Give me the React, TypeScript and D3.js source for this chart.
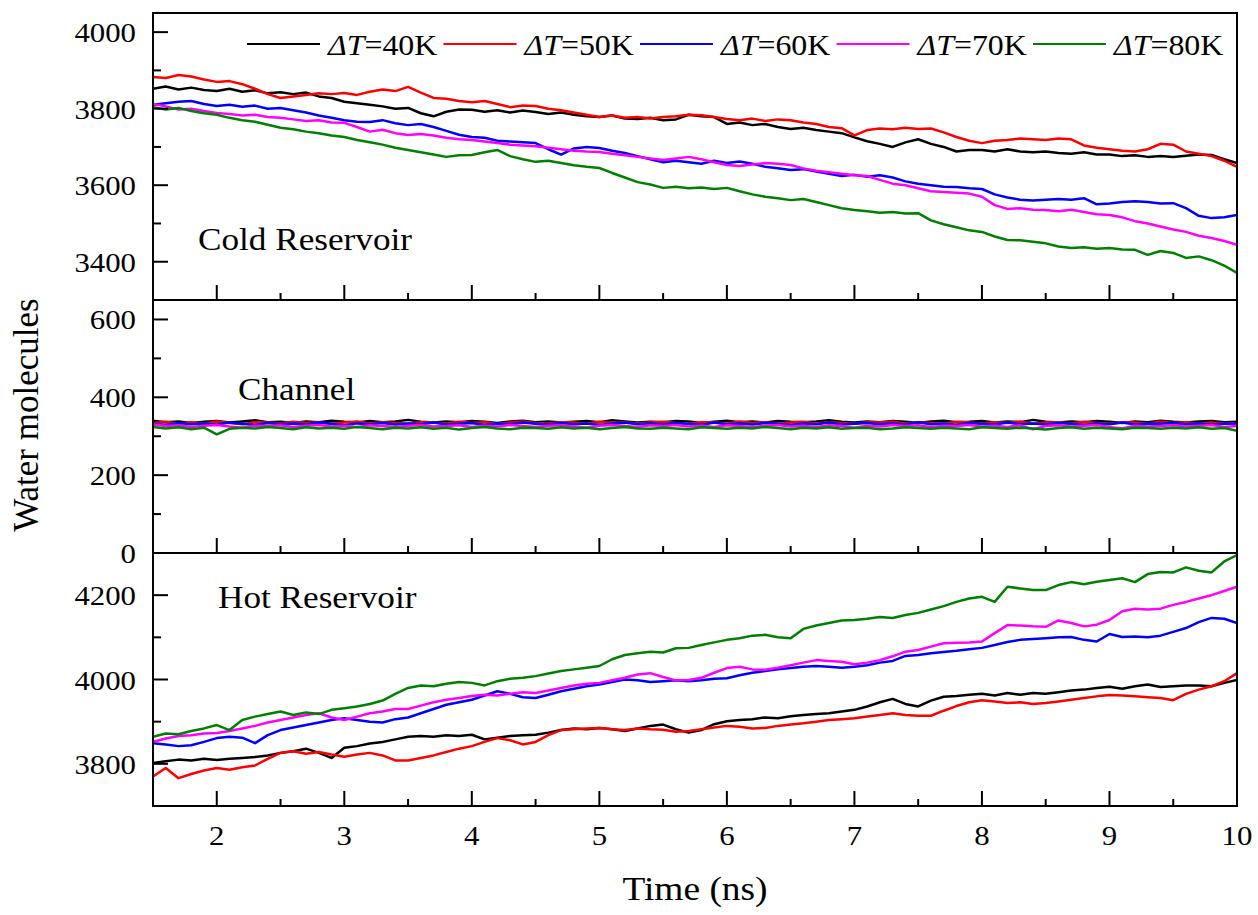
import React from "react";
import * as d3 from "d3";

// sampled every 0.1 ns from 1.5 to 10 ns
const TIME = d3.range(86).map((i) => Math.round((1.5 + i * 0.1) * 10) / 10);

const LEGEND_K = ["40K", "50K", "60K", "70K", "80K"];
const COLORS = ["#000000", "#ff0000", "#0000ff", "#ff00ff", "#008000"];

// cold reservoir
const COLD_40 = [
  3852, 3858, 3850, 3855, 3849, 3846, 3852, 3844, 3848, 3840,
  3843, 3838, 3842, 3832, 3828, 3818, 3814, 3810, 3806, 3800,
  3802, 3788, 3780, 3792, 3798, 3797, 3792, 3796, 3790, 3795,
  3791, 3786, 3790, 3784, 3780, 3778, 3782, 3774, 3773, 3776,
  3770, 3772, 3784, 3780, 3778, 3760, 3764, 3757, 3760, 3752,
  3747, 3750, 3744, 3740, 3736, 3725, 3715, 3708, 3700, 3712,
  3720, 3708, 3700, 3688, 3692, 3692, 3688, 3694, 3688, 3686,
  3688, 3684, 3682, 3686, 3680, 3680, 3676, 3678, 3674, 3676,
  3674, 3677, 3680, 3679, 3668, 3658,
];
const COLD_50 = [
  3883, 3880, 3888, 3884, 3876, 3870, 3872, 3864, 3852, 3838,
  3828, 3832, 3836, 3840, 3838, 3841, 3836, 3844, 3850, 3846,
  3857, 3842, 3828, 3826, 3820, 3817, 3820, 3812, 3804, 3808,
  3807, 3800, 3796, 3790, 3784, 3778, 3782, 3776, 3778, 3774,
  3778, 3780, 3784, 3783, 3778, 3773, 3770, 3774, 3768, 3772,
  3770, 3764, 3760, 3752, 3749, 3730, 3744, 3748, 3746, 3750,
  3747, 3748, 3738, 3726, 3716, 3710, 3716, 3718, 3722, 3720,
  3718, 3722, 3720, 3704, 3698, 3694, 3690, 3688, 3694, 3708,
  3706, 3688, 3682, 3676, 3664, 3648,
];
const COLD_60 = [
  3810, 3814, 3818, 3820, 3812, 3807, 3810, 3805, 3808, 3800,
  3802, 3796, 3790, 3782, 3776, 3770, 3766, 3765, 3770, 3762,
  3757, 3760, 3752, 3742, 3732, 3726, 3724, 3716, 3714, 3712,
  3710, 3694, 3680, 3696, 3700, 3697, 3690, 3684, 3676, 3668,
  3660, 3664, 3660, 3656, 3664, 3658, 3662, 3656, 3648, 3644,
  3640, 3642, 3636, 3630, 3624, 3627, 3622, 3626, 3620, 3610,
  3604, 3600, 3596, 3595, 3592, 3590, 3576, 3568, 3562, 3560,
  3562, 3564, 3562, 3566, 3550, 3552, 3556, 3558, 3556, 3552,
  3553, 3540, 3520, 3514, 3516, 3522,
];
const COLD_70 = [
  3812, 3806, 3798, 3800, 3794, 3789, 3786, 3782, 3784, 3778,
  3776, 3772, 3768, 3770, 3764, 3763, 3752, 3740, 3745, 3736,
  3731, 3734, 3730, 3724, 3720, 3718, 3714, 3710, 3706, 3704,
  3702, 3698, 3694, 3690, 3688, 3687, 3682, 3678, 3674, 3670,
  3666, 3670, 3674, 3668, 3660, 3653, 3650, 3654, 3658, 3656,
  3653, 3644, 3638, 3634, 3630, 3626, 3624, 3614, 3604, 3600,
  3592, 3584, 3582, 3580, 3578, 3570, 3548, 3538, 3540, 3536,
  3535, 3532, 3536, 3530, 3524, 3522, 3516, 3506, 3500, 3492,
  3484, 3478, 3468, 3462, 3454, 3444,
];
const COLD_80 = [
  3804, 3798, 3802, 3794, 3788, 3784, 3776, 3770, 3766, 3758,
  3750, 3746, 3740, 3736, 3730, 3726, 3718, 3712, 3706, 3698,
  3692, 3686, 3680, 3674, 3678, 3679, 3686, 3692, 3676, 3668,
  3661, 3664, 3658, 3652, 3648, 3645, 3632, 3620, 3608, 3602,
  3593, 3596, 3592, 3594, 3590, 3593, 3584, 3576, 3570, 3566,
  3561, 3564, 3556, 3548, 3540, 3535, 3532, 3528, 3530, 3526,
  3527, 3508, 3498, 3490, 3482, 3478, 3466, 3457, 3456, 3452,
  3448, 3440, 3436, 3438, 3434, 3436, 3432, 3431, 3418, 3428,
  3423, 3410, 3414, 3404, 3390, 3371,
];

// channel
const CH_40 = [
  340, 336, 338, 334, 337, 339, 335, 338, 341, 336,
  337, 334, 338, 336, 340, 337, 335, 339, 336, 338,
  342, 337, 335, 338, 336, 339, 337, 334, 338, 340,
  336, 338, 335, 337, 339, 336, 341, 338, 335, 337,
  336, 339, 338, 334, 337, 340, 336, 338, 335, 339,
  337, 336, 338, 341, 337, 335, 338, 336, 339, 337,
  334, 338, 340, 336, 337, 339, 335, 338, 336, 342,
  337, 335, 338, 336, 339, 337, 334, 338, 336, 340,
  337, 335, 338, 339, 336, 337,
];
const CH_50 = [
  334, 337, 332, 336, 333, 338, 334, 331, 336, 335,
  333, 337, 334, 336, 332, 335, 338, 333, 336, 334,
  332, 336, 335, 333, 337, 334, 336, 332, 335, 338,
  334, 333, 336, 335, 332, 337, 334, 336, 333, 335,
  337, 334, 332, 336, 335, 333, 338, 334, 336, 332,
  335, 337, 333, 336, 334, 332, 336, 335, 337, 333,
  336, 334, 332, 337, 335, 333, 336, 334, 338, 332,
  335, 336, 333, 337, 334, 332, 336, 335, 333, 337,
  334, 336, 332, 335, 333, 334,
];
const CH_60 = [
  332, 329, 334, 331, 333, 330, 335, 332, 329, 334,
  331, 333, 330, 335, 332, 328, 333, 331, 334, 330,
  333, 331, 335, 330, 332, 334, 329, 333, 331, 335,
  332, 330, 334, 331, 333, 329, 332, 335, 331, 333,
  330, 334, 332, 329, 335, 331, 333, 330, 334, 332,
  329, 333, 331, 335, 330, 332, 334, 331, 333, 330,
  336, 331, 333, 329, 334, 332, 330, 335, 331, 333,
  330, 334, 332, 329, 333, 331, 335, 330, 333, 332,
  334, 331, 333, 330, 332, 333,
];
const CH_70 = [
  330, 326, 328, 324, 327, 329, 325, 322, 327, 326,
  328, 324, 327, 329, 325, 327, 323, 328, 326, 324,
  327, 329, 325, 326, 328, 324, 327, 325, 329, 326,
  324, 327, 328, 325, 322, 327, 329, 326, 324, 328,
  326, 329, 325, 327, 324, 328, 326, 323, 327, 329,
  325, 327, 324, 328, 326, 322, 327, 325, 329, 326,
  328, 324, 327, 326, 329, 325, 327, 324, 328, 318,
  326, 328, 325, 327, 329, 324, 320, 327, 325, 326,
  328, 325, 327, 329, 324, 326,
];
const CH_80 = [
  324, 320, 323, 318, 322, 305, 319, 322, 320, 324,
  321, 318, 323, 320, 322, 319, 324, 321, 318, 322,
  320, 323, 319, 322, 317, 321, 324, 320, 318, 322,
  321, 319, 323, 320, 322, 318, 321, 324, 320, 319,
  322, 320, 318, 323, 321, 319, 322, 320, 324, 321,
  318, 322, 320, 323, 319, 321, 322, 318, 320, 323,
  321, 319, 322, 320, 318, 323, 321, 319, 322, 320,
  317, 321, 323, 319, 322, 320, 318, 322, 321, 319,
  322, 320, 323, 319, 321, 314,
];

// hot reservoir
const HOT_40 = [
  3802, 3806, 3810, 3808, 3812, 3809, 3812, 3814, 3816, 3820,
  3826, 3830, 3836, 3826, 3814, 3838, 3842, 3848, 3852, 3858,
  3864, 3866, 3864, 3868, 3866, 3869, 3858, 3862, 3866, 3868,
  3869, 3874, 3880, 3884, 3882, 3885, 3882, 3878, 3884, 3890,
  3893, 3882, 3874, 3880, 3894, 3901, 3904, 3906, 3910, 3908,
  3913, 3916, 3918, 3920, 3924, 3928, 3936, 3946, 3954, 3942,
  3936, 3950, 3959, 3961, 3964, 3966, 3962, 3968, 3964, 3968,
  3966, 3970, 3974, 3976, 3980, 3983, 3978, 3984, 3988, 3982,
  3984, 3986, 3986, 3984, 3992, 3999,
];
const HOT_50 = [
  3770, 3790, 3766, 3776, 3784, 3790, 3786, 3792, 3796, 3812,
  3826, 3830, 3824, 3828, 3822, 3817, 3822, 3826, 3820, 3808,
  3808, 3814, 3820, 3828, 3836, 3842, 3852, 3861, 3856, 3846,
  3852, 3868, 3880, 3882, 3884, 3885, 3882, 3880, 3884, 3882,
  3881, 3876, 3878, 3882, 3886, 3890, 3888, 3884, 3885, 3890,
  3893, 3896, 3900, 3904, 3906, 3908, 3912, 3916, 3920, 3916,
  3914, 3914, 3926, 3937, 3946, 3951, 3948, 3944, 3946, 3942,
  3944, 3948, 3952, 3956, 3960, 3963, 3962, 3960, 3958, 3956,
  3951, 3966, 3976, 3984, 3996, 4015,
];
const HOT_60 = [
  3849, 3846, 3842, 3844, 3852, 3861, 3864, 3862, 3849, 3868,
  3880, 3886, 3892, 3898, 3904, 3908, 3904, 3900, 3898, 3906,
  3910, 3920, 3930, 3940, 3946, 3952, 3962, 3972, 3966, 3958,
  3956, 3964, 3972, 3978, 3984, 3988, 3994, 4000, 3998, 3994,
  3996, 3998, 3996, 3998, 4002, 4003, 4010, 4016, 4020, 4024,
  4027, 4030, 4032, 4030, 4028, 4030, 4034, 4040, 4044, 4056,
  4058, 4062, 4065, 4068, 4072, 4075, 4082, 4089, 4094, 4096,
  4098, 4100, 4101, 4094, 4090, 4108, 4101, 4102, 4100, 4104,
  4113, 4122, 4136, 4146, 4144, 4134,
];
const HOT_70 = [
  3852, 3860, 3866, 3868, 3872, 3873, 3878, 3884, 3890, 3898,
  3904, 3910, 3916, 3920, 3910, 3904, 3912, 3920, 3924, 3930,
  3930, 3938, 3946, 3952, 3956, 3961, 3964, 3962, 3966, 3970,
  3968, 3974, 3980, 3986, 3990, 3992, 3998, 4004, 4012, 4015,
  4006, 3998, 3999, 4004, 4016, 4027, 4030, 4024, 4023, 4028,
  4034, 4040, 4046, 4044, 4042, 4036, 4040, 4046, 4055, 4066,
  4070, 4078, 4086, 4087, 4088, 4090, 4110, 4129, 4128, 4126,
  4125, 4140, 4134, 4126, 4130, 4141, 4162, 4168, 4166, 4168,
  4177, 4184, 4192, 4200, 4210, 4220,
];
const HOT_80 = [
  3864, 3872, 3870, 3878, 3884, 3892, 3880, 3904, 3912, 3918,
  3924, 3916, 3922, 3918, 3928, 3932, 3936, 3942, 3950, 3966,
  3980, 3986, 3984, 3990, 3994, 3992, 3986, 3996, 4002, 4004,
  4008, 4014, 4020, 4024, 4028, 4032, 4048, 4058, 4062, 4066,
  4064, 4074, 4075, 4082, 4088, 4094, 4098, 4104, 4106, 4100,
  4098, 4120, 4128, 4134, 4140, 4141, 4144, 4148, 4146, 4153,
  4158, 4166, 4174, 4184, 4192, 4196, 4184, 4220, 4216, 4212,
  4212, 4224, 4231, 4226, 4232, 4236, 4240, 4231, 4250, 4255,
  4254, 4266, 4258, 4254, 4280, 4295,
];

const X_TICKS = [2, 3, 4, 5, 6, 7, 8, 9, 10];
const X_MINOR = [2.5, 3.5, 4.5, 5.5, 6.5, 7.5, 8.5, 9.5];

const PANELS = [
  { label: "Cold Reservoir", top: 13, bottom: 300, domain: [3300, 4050], major: [3400, 3600, 3800, 4000], minor: [3500, 3700, 3900], series: [COLD_40, COLD_50, COLD_60, COLD_70, COLD_80], lx: 198, ly: 250 },
  { label: "Channel", top: 300, bottom: 553, domain: [0, 650], major: [0, 200, 400, 600], minor: [100, 300, 500], series: [CH_40, CH_50, CH_60, CH_70, CH_80], lx: 238, ly: 400 },
  { label: "Hot Reservoir", top: 553, bottom: 806, domain: [3700, 4300], major: [3800, 4000, 4200], minor: [3900, 4100], series: [HOT_40, HOT_50, HOT_60, HOT_70, HOT_80], lx: 218, ly: 608 },
];

const FONT = "'Liberation Serif', 'Times New Roman', serif";
const X0 = 153;
const X1 = 1237;
const SX = 1.1; // the original type is a little wide

export default function App() {
  const x = d3.scaleLinear().domain([1.5, 10]).range([X0, X1]);

  return (
    <svg width={1258} height={915} style={{ position: "absolute", left: 0, top: 0, background: "#fff" }}>
      <rect width={1258} height={915} fill="#fff" />
      <defs>
        {PANELS.map((p, i) => (
          <clipPath id={`clip${i}`} key={i}>
            <rect x={X0} y={p.top} width={X1 - X0} height={p.bottom - p.top} />
          </clipPath>
        ))}
      </defs>
      {PANELS.map((p, pi) => {
        const y = d3.scaleLinear().domain(p.domain).range([p.bottom, p.top]);
        const line = d3
          .line<number>()
          .x((_, i) => x(TIME[i]))
          .y((d) => y(d));
        return (
          <g key={pi}>
            <g clipPath={`url(#clip${pi})`}>
              {p.series.map((s, si) => (
                <path key={si} d={line(s) || ""} fill="none" stroke={COLORS[si]} strokeWidth={2.5} strokeLinejoin="round" />
              ))}
            </g>
            {/* left ticks */}
            {p.major.map((v) => (
              <g key={`ma${v}`}>
                <line x1={X0} x2={X0 + 15} y1={y(v)} y2={y(v)} stroke="#000" strokeWidth={2} />
                <text transform={`translate(${136},${y(v) + 10}) scale(${SX},1)`} textAnchor="end" fontFamily={FONT} fontSize={28} fill="#000">
                  {v}
                </text>
              </g>
            ))}
            {p.minor.map((v) => (
              <line key={`mi${v}`} x1={X0} x2={X0 + 8} y1={y(v)} y2={y(v)} stroke="#000" strokeWidth={2} />
            ))}
            {/* bottom ticks */}
            {X_TICKS.map((t) => (
              <line key={`xt${t}`} x1={x(t)} x2={x(t)} y1={p.bottom} y2={p.bottom - 15} stroke="#000" strokeWidth={2} />
            ))}
            {X_MINOR.map((t) => (
              <line key={`xm${t}`} x1={x(t)} x2={x(t)} y1={p.bottom} y2={p.bottom - 7} stroke="#000" strokeWidth={2} />
            ))}
            <rect x={X0} y={p.top} width={X1 - X0} height={p.bottom - p.top} fill="none" stroke="#000" strokeWidth={2} />
            <text transform={`translate(${p.lx},${p.ly}) scale(${SX},1)`} fontFamily={FONT} fontSize={32} fill="#000">
              {p.label}
            </text>
          </g>
        );
      })}
      {X_TICKS.map((t) => (
        <text key={`xl${t}`} transform={`translate(${x(t)},${845}) scale(${SX},1)`} textAnchor="middle" fontFamily={FONT} fontSize={28} fill="#000">
          {t}
        </text>
      ))}
      {/* legend */}
      {LEGEND_K.map((k, i) => {
        const lx = 247 + i * 196.5;
        return (
          <g key={k}>
            <line x1={lx} x2={lx + 73} y1={44} y2={44} stroke={COLORS[i]} strokeWidth={2} />
            <text transform={`translate(${lx + 81},${55}) scale(${SX},1)`} fontFamily={FONT} fontSize={29} fill="#000">
              <tspan fontStyle="italic">ΔT</tspan>={k}
            </text>
          </g>
        );
      })}
      <text transform={`translate(${695},${900}) scale(${SX},1)`} textAnchor="middle" fontFamily={FONT} fontSize={34} fill="#000">
        Time (ns)
      </text>
      <text transform={`translate(${38},${415}) rotate(-90)`} textAnchor="middle" fontFamily={FONT} fontSize={35} fill="#000">
        Water molecules
      </text>
    </svg>
  );
}
